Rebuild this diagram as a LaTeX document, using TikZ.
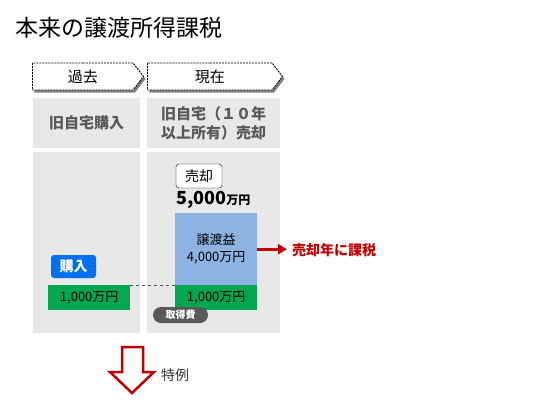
\documentclass[tikz,border=0pt]{standalone}
\usepackage{fontspec}
\setmainfont{Noto Sans CJK JP}
\usetikzlibrary{shapes.symbols, shadows, arrows.meta, positioning}

\definecolor{gainblue}{RGB}{141,179,226}
\definecolor{costgreen}{RGB}{0,166,80}
\definecolor{tagblue}{RGB}{0,112,240}
\definecolor{taxred}{RGB}{192,0,0}

\begin{document}
\begin{tikzpicture}[x=1pt, y=-1pt,
        period/.style={signal, signal to=east, signal pointer angle=105, draw=black, dash pattern=on 2pt off 1pt, line width=0.9pt, fill=white, minimum height=27pt, inner sep=0pt, font=\fontsize{15}{17}\selectfont, drop shadow={shadow xshift=2pt, shadow yshift=-2.5pt, fill=black!70, opacity=0.7}},
        panel/.style={anchor=north west, fill=black!9, inner sep=0pt, align=center},
        headtext/.style={font=\fontsize{15}{19}\selectfont\bfseries, text=black!65},
        bar/.style={anchor=north west, inner sep=0pt, minimum width=82pt, align=center, font=\fontsize{13}{17}\selectfont},
        tag/.style={rounded corners=3pt, inner sep=0pt, minimum height=23pt, font=\fontsize{14}{16}\selectfont\bfseries}
    ]
    \useasboundingbox (0,0) rectangle (557,413);

    \node[anchor=west, font=\fontsize{23}{25}\selectfont] (title) at (12,28) {本来の譲渡所得課税};

    % 期間の見出し
    \node[period, minimum width=111pt, anchor=west] (past) at (32,76.5) {過去\hspace{4pt}};
    \node[period, minimum width=135pt, anchor=west] (now) at (147,76.5) {現在\hspace{4pt}};

    \node[panel, headtext, minimum width=107pt, minimum height=50pt] (pastHead) at (33,98) {旧自宅購入};
    \node[panel, headtext, minimum width=133pt, minimum height=50pt] (nowHead) at (147,98) {旧自宅（１０年\\以上所有）売却};

    \node[panel, minimum width=107pt, minimum height=181pt] (pastBody) at (33,152) {};
    \node[panel, minimum width=133pt, minimum height=181pt] (nowBody) at (147,152) {};

    % 金額
    \node[bar, fill=costgreen, minimum height=25pt] (buyCost) at (48,285) {1,000万円};
    \node[bar, fill=costgreen, minimum height=25pt] (saleCost) at (175,285) {1,000万円};
    \node[bar, fill=gainblue, minimum height=72pt] (gain) at (175,213) {譲渡益\\4,000万円};
    \draw[dashed, black!70] (buyCost.north east) -- (saleCost.north west);

    \node[tag, fill=tagblue, text=white, minimum width=45pt] (buyTag) at (73.5,266.5) {購入};
    \node[tag, draw, fill=white, minimum width=46pt, minimum height=24pt, font=\fontsize{14}{16}\selectfont] (saleTag) at (199,176) {売却};
    \node[anchor=west, inner sep=0pt, font=\bfseries] (salePrice) at (176,200) {{\fontsize{18}{20}\selectfont 5,000}{\fontsize{12}{14}\selectfont 万円}};
    \node[rounded corners=8pt, fill=black!65, text=white, minimum width=55pt, minimum height=16pt, inner sep=0pt, font=\fontsize{10}{12}\selectfont\bfseries] (costTag) at (180.5,315) {取得費};

    % 課税
    \node[anchor=west, inner sep=0pt, text=taxred, font=\fontsize{14}{16}\selectfont\bfseries] (taxNote) at (292,250) {売却年に課税};
    \draw[-{Triangle[length=9pt, width=10pt]}, taxred, line width=3pt, shorten >=5pt] (gain.east) -- (gain.east -| taxNote.west);

    % 特例へ
    \draw[taxred, line width=2.5pt, fill=white, line join=miter] (122,347) -- (143,347) -- (143,372) -- (154,372) -- (132,393) -- (110,372) -- (122,372) -- cycle;
    \node[anchor=west, inner sep=0pt, text=black!80, font=\fontsize{14}{16}\selectfont] (special) at (161,375) {特例};
\end{tikzpicture}
\end{document}
